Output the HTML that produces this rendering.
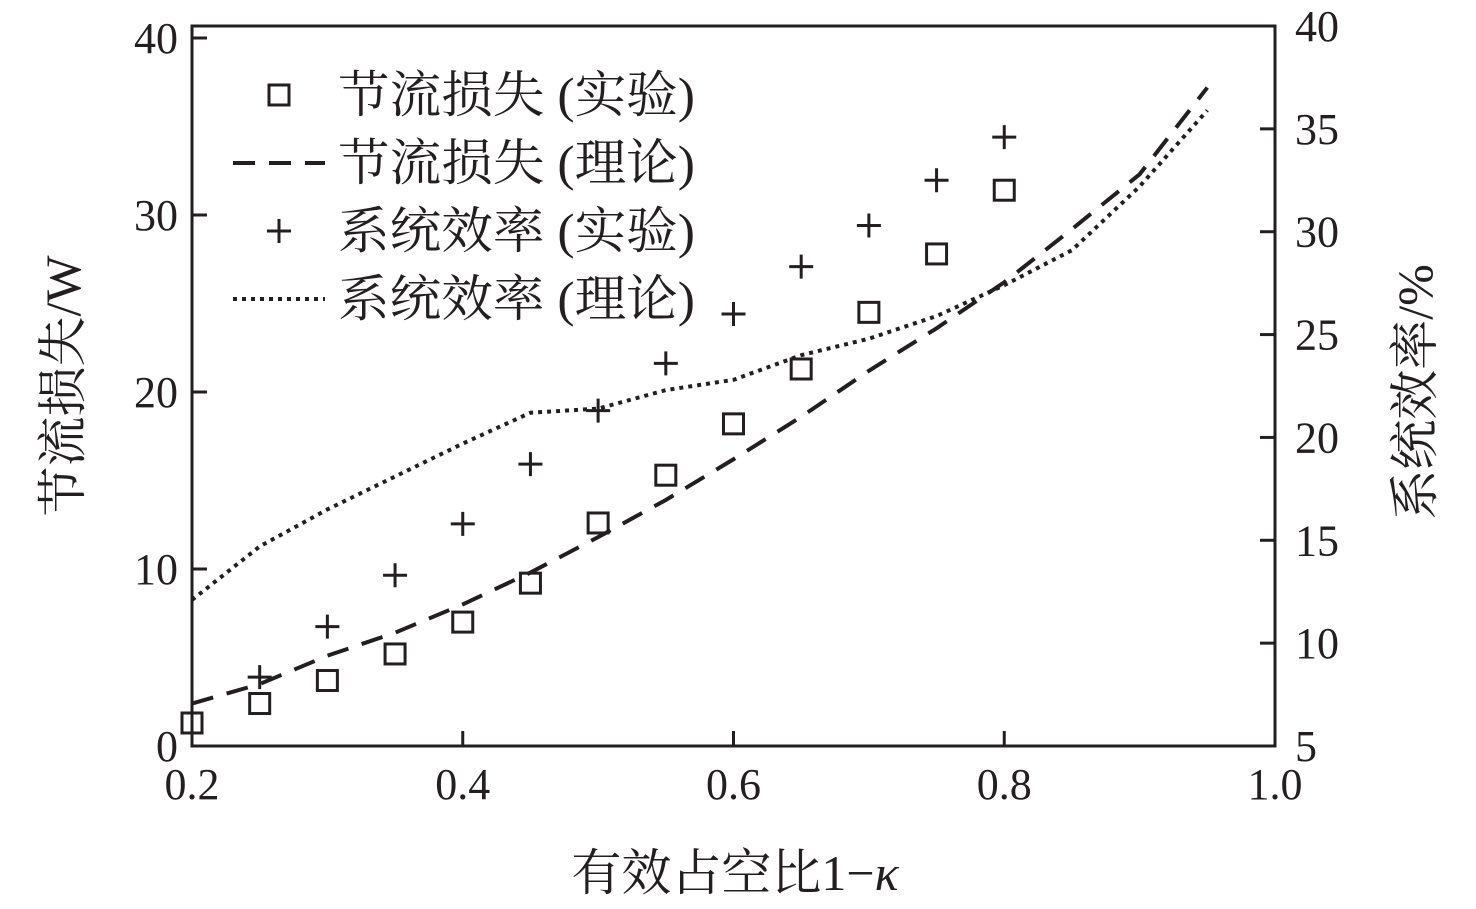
<!DOCTYPE html>
<html><head><meta charset="utf-8"><style>
body{margin:0;background:#fff}
svg text{font-family:"Liberation Serif","Noto Serif CJK SC",serif;fill:#231f20}
</style></head><body>
<svg id="c" width="1476" height="904" xmlns="http://www.w3.org/2000/svg"></svg>
<script>
const xCats=[0.2,0.25,0.3,0.35,0.4,0.45,0.5,0.55,0.6,0.65,0.7,0.75,0.8];
const lossExp=[1.3,2.4,3.7,5.2,7.0,9.2,12.6,15.3,18.2,21.3,24.5,27.8,31.4];
const effX=[0.25,0.3,0.35,0.4,0.45,0.5,0.55,0.6,0.65,0.7,0.75,0.8];
const effExp=[8.35,10.8,13.3,15.8,18.7,21.3,23.6,26.0,28.3,30.3,32.5,34.6];
const thX=[0.2,0.25,0.3,0.35,0.4,0.45,0.5,0.55,0.6,0.65,0.7,0.75,0.8,0.85,0.9,0.95];
const lossTh=[2.4,3.5,5.1,6.4,8.0,9.8,11.8,13.9,16.2,18.6,21.2,23.6,26.2,29.2,32.3,37.2];
const effTh=[12.1,14.7,16.5,18.1,19.7,21.2,21.4,22.3,22.8,24.0,24.8,25.9,27.4,29.1,32.2,35.9];
const xTicks=["0.2","0.4","0.6","0.8","1.0"];
const yLTicks=["0","10","20","30","40"];
const yRTicks=["5","10","15","20","25","30","35","40"];
const NS="http://www.w3.org/2000/svg",svg=document.getElementById('c');
const X0=192,X1=1275,YB=746,YT=26;
const sx=v=>X0+(v-0.2)/0.8*(X1-X0);
const syL=v=>YB-v/40*(YB-38);
const syR=v=>YB-(v-5)/35*(YB-YT);
function el(t,a,p){const e=document.createElementNS(NS,t);for(const k in a)e.setAttribute(k,a[k]);(p||svg).appendChild(e);return e;}
const frame=el('rect',{x:X0,y:YT,width:X1-X0,height:YB-YT,fill:'none',stroke:'#231f20','stroke-width':3});

xTicks.forEach(t=>{const x=sx(+t);
 const l=el('line',{x1:x,x2:x,y1:YB,y2:YB-15,stroke:'#231f20','stroke-width':3});
 
 const tx=el('text',{x:x,y:YB+53,'font-size':44,'text-anchor':'middle'});tx.textContent=t;
 });
yLTicks.forEach(t=>{const y=syL(+t);
 const l=el('line',{x1:X0,x2:X0+15,y1:y,y2:y,stroke:'#231f20','stroke-width':3});
 
 const tx=el('text',{x:X0-14,y:y+15,'font-size':44,'text-anchor':'end'});tx.textContent=t;
 });
yRTicks.forEach(t=>{const y=syR(+t);
 const l=el('line',{x1:X1,x2:X1-15,y1:y,y2:y,stroke:'#231f20','stroke-width':3});
 
 const tx=el('text',{x:X1+20,y:y+15,'font-size':44});tx.textContent=t;
 });
function path(xs,ys,f,dash,name){const d=xs.map((x,i)=>(i?'L':'M')+sx(x)+','+f(ys[i])).join('');
 const p=el('path',{d:d,fill:'none',stroke:'#231f20','stroke-width':4,'stroke-dasharray':dash});
 }
path(thX,lossTh,syL,'22 14','loss-theory-line');
path(thX,effTh,syR,'4 5','efficiency-theory-line');
xCats.forEach((x,i)=>{const r=el('rect',{x:sx(x)-10,y:syL(lossExp[i])-10,width:20,height:20,fill:'none',stroke:'#231f20','stroke-width':3});
 });
effX.forEach((x,i)=>{const cx=sx(x),cy=syR(effExp[i]);
 const p=el('path',{d:`M${cx-12},${cy}H${cx+12}M${cx},${cy-12}V${cy+12}`,stroke:'#231f20','stroke-width':3});
 });
const lg=el('g',{});
const labels=["节流损失 (实验)","节流损失 (理论)","系统效率 (实验)","系统效率 (理论)"];
labels.forEach((s,i)=>{const y=95+i*68;
 if(i==0)el('rect',{x:269,y:y-10,width:20,height:20,fill:'none',stroke:'#231f20','stroke-width':3},lg);
 if(i==1)el('line',{x1:233,x2:325,y1:y,y2:y,stroke:'#231f20','stroke-width':4,'stroke-dasharray':'22 14'},lg);
 if(i==2)el('path',{d:`M267,${y}H291M279,${y-12}V${y+12}`,stroke:'#231f20','stroke-width':3},lg);
 if(i==3)el('line',{x1:233,x2:325,y1:y,y2:y,stroke:'#231f20','stroke-width':4,'stroke-dasharray':'4 5'},lg);
 const t=el('text',{x:338,y:y+17,'font-size':50,textLength:357,lengthAdjust:'spacingAndGlyphs'},lg);t.textContent=s;
 });
const xt=el('text',{x:735,y:890,'font-size':50,'text-anchor':'middle'});xt.innerHTML='有效占空比1−<tspan font-style="italic">κ</tspan>';

const yl=el('text',{x:0,y:0,'font-size':50,'text-anchor':'middle',transform:'translate(80,386) rotate(-90)'});yl.textContent='节流损失/W';

const yr=el('text',{x:0,y:0,'font-size':50,'text-anchor':'middle',transform:'translate(1432,392) rotate(-90)'});yr.textContent='系统效率/%';

</script>
</body></html>
